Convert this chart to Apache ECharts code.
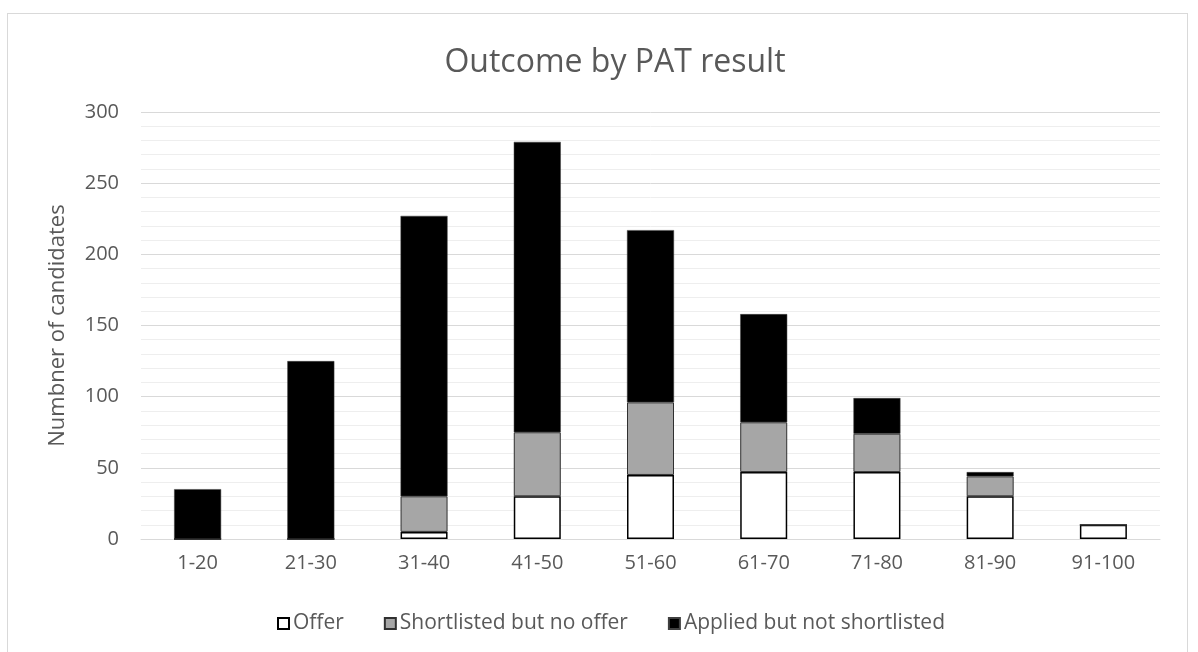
<!DOCTYPE html>
<html>
<head>
<meta charset="utf-8">
<script src="https://cdn.jsdelivr.net/npm/echarts@6/dist/echarts.min.js"></script>
<style>
html,body{margin:0;padding:0;background:#fff;overflow:hidden;}
#frame{position:absolute;left:7px;top:13px;width:1181px;height:700px;border:1px solid #d9d9d9;box-sizing:border-box;}
#chart{position:absolute;left:0;top:0;width:1198px;height:652px;}
</style>
</head>
<body>
<div id="frame"></div>
<div id="chart"></div>
<script>
const categories = ['1-20','21-30','31-40','41-50','51-60','61-70','71-80','81-90','91-100'];
const offer = [0, 0, 5, 30, 45, 47, 47, 30, 10];
const shortlisted = [0, 0, 25, 45, 51, 35, 27, 14, 0];
const applied = [35, 125, 197, 204, 121, 76, 25, 3, 0];
const yTicks = [0, 50, 100, 150, 200, 250, 300];

const font = '"Open Sans", "Noto Sans", sans-serif';
const txt = '#595959';
const chart = echarts.init(document.getElementById('chart'), null, {renderer:'canvas'});
chart.setOption({
  animation: false,
  backgroundColor: 'transparent',
  title: {
    text: 'Outcome by PAT result',
    left: 610, top: 42, textAlign: 'center',
    textStyle: {fontFamily: font, fontSize: 32, fontWeight: 'normal', color: txt}
  },
  legend: {
    left: 272, top: 608, icon: 'rect',
    itemWidth: 11, itemHeight: 11, itemGap: 40,
    textStyle: {fontFamily: font, fontSize: 21, color: txt, padding: [0,0,0,-1]},
    data: ['Offer', 'Shortlisted but no offer', 'Applied but not shortlisted']
  },
  grid: {left: 141, right: 38, top: 112, bottom: 113, containLabel: false},
  xAxis: {
    type: 'category', data: categories,
    axisTick: {show: false},
    axisLine: {lineStyle: {color: '#d9d9d9', width: 1}},
    axisLabel: {fontFamily: font, fontSize: 20, color: txt, margin: 14}
  },
  yAxis: {
    type: 'value', min: yTicks[0], max: yTicks[yTicks.length-1], interval: 50,
    name: 'Numbner of candidates', nameLocation: 'middle', nameGap: 72,
    nameTextStyle: {fontFamily: font, fontSize: 22, color: txt},
    axisLine: {show: false}, axisTick: {show: false},
    axisLabel: {fontFamily: font, fontSize: 20, color: txt, margin: 22},
    splitLine: {lineStyle: {color: '#d9d9d9', width: 1}},
    minorTick: {show: false, splitNumber: 5},
    minorSplitLine: {show: true, lineStyle: {color: '#eeeeee', width: 1}}
  },
  series: [
    {name: 'Offer', type: 'bar', stack: 'all', data: offer, barWidth: 47,
     itemStyle: {color: '#ffffff', borderColor: '#000000', borderWidth: 1.5}},
    {name: 'Shortlisted but no offer', type: 'bar', stack: 'all', data: shortlisted, barWidth: 47,
     itemStyle: {color: '#a6a6a6', borderColor: '#303030', borderWidth: 1}},
    {name: 'Applied but not shortlisted', type: 'bar', stack: 'all', data: applied, barWidth: 47,
     itemStyle: {color: '#000000', borderColor: '#404040', borderWidth: 0.5}}
  ]
});
</script>
</body>
</html>
